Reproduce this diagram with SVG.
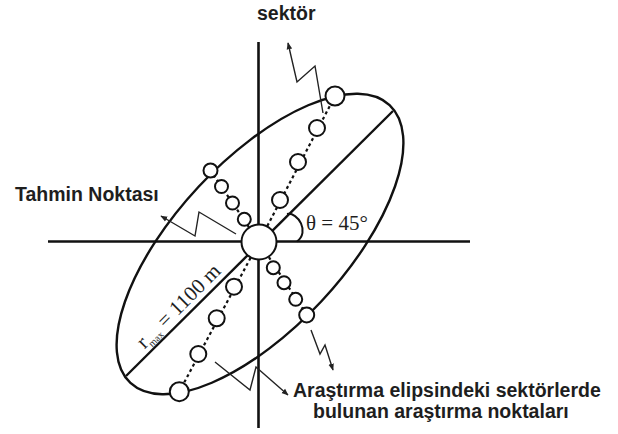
<svg xmlns="http://www.w3.org/2000/svg" width="618" height="434" viewBox="0 0 618 434">
<defs>
<style>
.axis{stroke:#111;stroke-width:2.6;fill:none;stroke-linecap:butt}
.ell{stroke:#111;stroke-width:2.4;fill:none}
.dot{stroke:#111;stroke-width:2.2;stroke-dasharray:3 3;fill:none}
.pt{stroke:#111;stroke-width:2;fill:#fff}
.zz{stroke:#222;stroke-width:1.4;fill:none;stroke-linejoin:miter}
.lbl{font-family:"Liberation Sans",Arial,sans-serif;font-weight:bold;font-size:19.5px;fill:#1e1e1e}
.ser{font-family:"Liberation Serif","Times New Roman",serif;font-size:21px;fill:#1e1e1e}
</style>
<marker id="ah" viewBox="0 0 10 10" refX="9" refY="5" markerWidth="7" markerHeight="7" markerUnits="userSpaceOnUse" orient="auto">
<path d="M0,1 L10,5 L0,9 z" fill="#222"/>
</marker>
</defs>
<rect width="618" height="434" fill="#fff"/>

<g id="axes">
<line class="axis" x1="48" y1="241.5" x2="470" y2="241.5"/>
<line class="axis" x1="258.5" y1="42" x2="258.5" y2="428"/>
</g>

<g id="ellipse">
<ellipse class="ell" cx="260" cy="244" rx="190" ry="84" transform="rotate(-47 260 244)"/>
<line class="ell" x1="126" y1="376" x2="393" y2="111"/>
</g>

<g id="connectors">
<line class="dot" x1="259" y1="242" x2="335" y2="96"/>
<line class="dot" x1="259" y1="242" x2="179.3" y2="391.7"/>
<line class="dot" x1="259" y1="242" x2="210.5" y2="170.5"/>
<line class="dot" x1="259" y1="242" x2="306.7" y2="315"/>
<path class="zz" d="M323,113 L315,66 L297,82 L288,43" marker-end="url(#ah)"/>
<path class="zz" d="M236,234 L199,212 L195,236 L161,216" marker-end="url(#ah)"/>
<path class="zz" d="M311,330 L320,354 L325,345 L333,370" marker-end="url(#ah)"/>
<path class="zz" d="M215,362 L250,390 L256,367 L288,395" marker-end="url(#ah)"/>
<path class="zz" style="stroke:#111;stroke-width:2" d="M287,214 C298,212 310,232 297,241.5"/>
</g>

<g id="center-node">
<circle class="pt" cx="259" cy="242" r="17.5"/>
</g>

<g id="sector-ne">
<circle class="pt" cx="280" cy="200" r="8"/>
<circle class="pt" cx="298" cy="162" r="8"/>
<circle class="pt" cx="317" cy="128" r="8"/>
<circle class="pt" cx="335" cy="96" r="9.5"/>
</g>
<g id="sector-nw">
<circle class="pt" cx="244.3" cy="219.3" r="6.5"/>
<circle class="pt" cx="232.5" cy="203" r="6.5"/>
<circle class="pt" cx="221.5" cy="186.5" r="6.5"/>
<circle class="pt" cx="210.5" cy="170.5" r="7"/>
</g>
<g id="sector-se">
<circle class="pt" cx="273.3" cy="267.7" r="6.5"/>
<circle class="pt" cx="284" cy="282.7" r="6.5"/>
<circle class="pt" cx="295.7" cy="299.3" r="6.5"/>
<circle class="pt" cx="306.7" cy="315" r="7.5"/>
</g>
<g id="sector-sw">
<circle class="pt" cx="234" cy="286.7" r="8"/>
<circle class="pt" cx="216.7" cy="318.3" r="8"/>
<circle class="pt" cx="198.3" cy="354" r="8"/>
<circle class="pt" cx="179.3" cy="391.7" r="9.5"/>
</g>

<g id="labels">
<text class="lbl" x="257" y="20">sektör</text>
<text class="lbl" x="15" y="201">Tahmin Noktası</text>
<text class="lbl" x="293" y="397">Araştırma elipsindeki sektörlerde</text>
<text class="lbl" x="313" y="418">bulunan araştırma noktaları</text>
<text class="ser" x="306" y="230">θ = 45°</text>
<text class="ser" transform="translate(144.5 349.5) rotate(-45)">r<tspan font-size="10" dy="4">max</tspan><tspan dy="-4"> = 1100 m</tspan></text>
</g>
</svg>
